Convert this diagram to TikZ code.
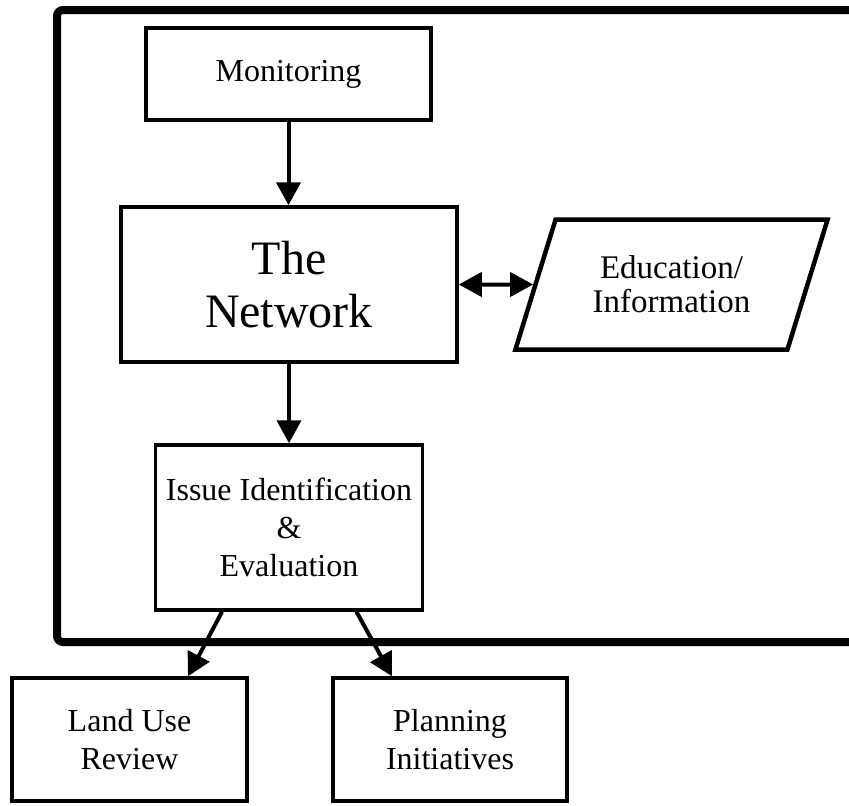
\documentclass[tikz,border=0pt]{standalone}
\usepackage{fontspec}
\setmainfont{Liberation Serif}
\usepackage{tikz}
\usetikzlibrary{positioning,arrows.meta,shapes.geometric,calc}

\begin{document}
\begin{tikzpicture}[
    x=1pt, y=-1pt,
    every node/.style={font=\fontsize{32}{38}\selectfont, align=center},
    block/.style={draw, line width=3.5pt, inner sep=0pt},
    slanted/.style={draw, line width=4.5pt, trapezium, trapezium left angle=64.5,
        trapezium right angle=115.5, trapezium stretches=true, inner sep=0pt},
    arrow/.style={-{Triangle[length=23pt,width=24pt]}, line width=4pt}
]
\useasboundingbox (0,0) rectangle (849,806);

% Cadre
\draw[line width=8pt, rounded corners=6pt] (849,642) -- (57,642) -- (57,10) -- (849,10);

% Monitoring
\node[block, minimum width=285pt, minimum height=92pt] (mon) at (288.5,74) {Monitoring};

% The Network
\node[block, minimum width=336pt, minimum height=155pt,
      font=\fontsize{48}{53}\selectfont] (net) at (289,284.5) {The\\Network};

% Education / Information
\node[slanted, minimum width=313pt, minimum height=130pt,
      font=\fontsize{33}{34}\selectfont] (edu) at (671.5,284.5) {Education/\\Information};

% Issue Identification
\node[block, minimum width=267pt, minimum height=165pt] (iss) at (289,527.5)
    {Issue Identification\\\&\\Evaluation};

% Sorties (sous le cadre)
\node[block, minimum width=235pt, minimum height=123pt] (land) at (129.5,739.5) {Land Use\\Review};
\node[block, minimum width=234pt, minimum height=123pt] (plan) at (450,739.5) {Planning\\Initiatives};

% Flèches
\draw[arrow] (mon.south) -- (mon.south |- net.north);
\draw[arrow] (net.south) -- (net.south |- iss.north);
\draw[arrow, {Triangle[length=23pt,width=24pt]}-{Triangle[length=23pt,width=24pt]}] (net.east) -- (edu.west);
\draw[arrow] ([xshift=-67pt]iss.south) -- ([xshift=58.5pt]land.north);
\draw[arrow] ([xshift=67.5pt]iss.south) -- ([xshift=-58pt]plan.north);

\end{tikzpicture}
\end{document}
